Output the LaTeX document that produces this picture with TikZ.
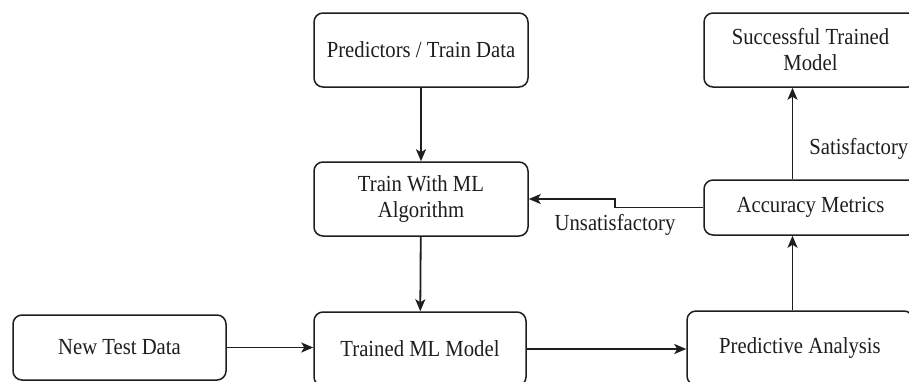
\documentclass[tikz,border=0pt]{standalone}
\usepackage{fontspec}
\setmainfont{Liberation Serif}[FakeStretch=0.9]
\usetikzlibrary{arrows.meta}
\definecolor{ink}{HTML}{1E1E1E}
\tikzset{
  box/.style={draw=ink, line width=1.5pt, rounded corners=9pt, fill=white,
    align=center, inner sep=2pt, text=ink,
    font=\fontsize{23}{26}\selectfont},
  link/.style={draw=ink, line width=1.8pt,
    -{Stealth[length=12pt,width=10pt,inset=3pt]}},
  tag/.style={text=ink, inner sep=1pt, font=\fontsize{23}{26}\selectfont}
}
\begin{document}
\begin{tikzpicture}[x=1pt,y=-1pt]
  \useasboundingbox (0,0) rectangle (909,381);
  \clip (0,0) rectangle (909,381);
  \fill[white] (0,0) rectangle (909,381);

  % left / middle column
  \node[box, minimum width=214pt, minimum height=74pt] (pred) at (421,50) {Predictors / Train Data};
  \node[box, minimum width=214pt, minimum height=74pt] (train) at (421,199) {Train With ML\\Algorithm};
  \node[box, minimum width=212pt, minimum height=74pt] (trained) at (420,349) {Trained ML Model};
  \node[box, minimum width=213pt, minimum height=65pt] (newtest) at (119.5,347.5) {New Test Data};

  % right column
  \node[box, minimum width=226pt, minimum height=74pt] (predictive) at (800,348) {Predictive Analysis};
  \node[box, minimum width=213pt, minimum height=55pt] (accuracy) at (810.5,207.5) {Accuracy Metrics};
  \node[box, minimum width=213pt, minimum height=74pt] (success) at (810.5,50) {Successful Trained\\Model};
  \coordinate (rcol) at (792.5,0);

  % connectors
  \draw[link] (pred) -- (train);
  \draw[link] (train) -- (trained);
  \draw[link] (newtest.east) -- (trained.west |- newtest.east);
  \draw[link] (trained.east) -- (predictive.west |- trained.east);
  \draw[link] (predictive.north -| rcol) -- (accuracy.south -| rcol);
  \draw[link] (accuracy.north -| rcol) -- (success.south -| rcol)
    node[tag, pos=0.33, anchor=west, xshift=15pt] (sat) {Satisfactory};
  \draw[link] (accuracy.west) -- ++(-88,0) |- (train.east);
  \node[tag] (unsat) at (615,225) {Unsatisfactory};
\end{tikzpicture}
\end{document}
